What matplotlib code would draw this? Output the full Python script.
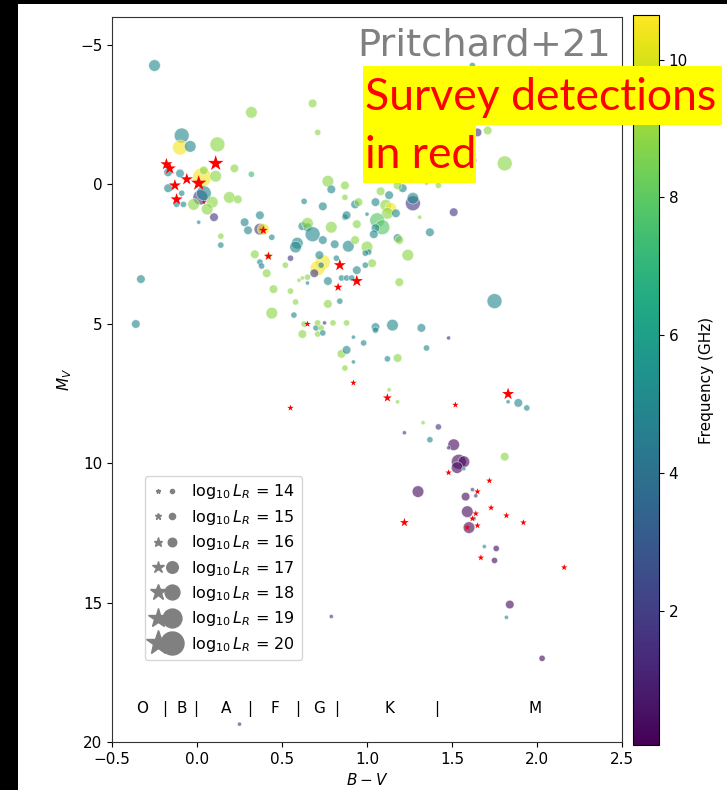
import numpy as np
import matplotlib.pyplot as plt
from matplotlib.lines import Line2D
from matplotlib.legend_handler import HandlerTuple
from matplotlib.patches import Rectangle
from matplotlib.colors import Normalize
from matplotlib.cm import ScalarMappable

# stars from Pritchard+21: colour index, absolute magnitude, frequency (GHz), log10 L_R
bv = [-0.25, 0.32, 0.68, 0.71, -0.09, -0.10, -0.04, 0.12, -0.17, -0.10,
      0.03, 0.04, 0.11, 0.02, 0.04, -0.17, -0.09, -0.12, -0.08, -0.02,
      0.09, 0.06, 0.19, 0.24, 0.22, 0.10, 0.01, 0.14, 0.14, 0.28,
      0.30, 0.32, 0.37, 0.37, 0.39, 0.44, -0.33, -0.36, 0.34, 0.37,
      0.38, 0.42, 0.55, 0.52, 0.41, 0.45, 0.55, 0.58, 0.44, 0.57,
      0.59, 0.58, 0.62, 0.65, 0.65, 0.68, 0.74, 0.79, 0.81, 0.89,
      0.93, 0.87, 1.00, 1.01, 0.94, 1.03, 0.99, 0.74, 0.71, 0.72,
      0.73, 0.69, 0.65, 0.62, 0.60, 0.65, 0.77, 0.82, 0.85, 0.88,
      0.91, 0.84, 0.77, 0.63, 0.70, 0.71, 0.75, 0.73, 0.71, 0.74,
      0.62, 0.80, 0.88, 0.92, 0.98, 1.05, 1.05, 1.15, 1.32, 1.48,
      1.35, 0.85, 0.88, 0.92, 1.12, 1.18, 0.87, 1.13, 1.18, 1.19,
      1.24, 1.75, 1.83, 1.89, 1.94, 1.33, 1.42, 1.22, 1.37, 1.51,
      1.48, 1.54, 1.57, 1.53, 1.57, 1.81, 1.30, 1.62, 1.64, 1.58,
      1.59, 1.63, 1.60, 1.69, 1.76, 1.75, 1.84, 1.82, 2.03, 0.79,
      0.25, 1.62, 1.65, 1.71, 1.62, 1.81, 1.51, 1.31, 1.37, 1.27,
      1.27, 1.21, 1.18, 1.42, 1.35, 1.13, 1.08, 1.11, 1.14, 1.12,
      1.17, 1.06, 1.09, 1.05, 1.04, 1.18, 1.19, 0.77, 0.79, 0.87,
      0.87, 0.63, 0.74, 0.93, 0.95, 1.05, 1.00, 0.88, 0.94, 0.99]
mv = [-4.26, -2.58, -2.90, -1.86, -1.75, -1.32, -1.36, -1.43, -0.43, -0.39,
      -0.25, -0.50, -0.29, 0.47, 0.32, 0.14, 0.32, 0.72, 0.72, 0.72,
      0.64, 0.89, 0.47, 0.54, -0.57, 1.18, 1.36, 1.86, 2.18, 1.36,
      1.65, -0.36, 1.11, 1.61, 1.61, 1.90, 3.40, 5.01, 2.51, 2.79,
      2.93, 2.58, 2.65, 2.90, 3.19, 3.76, 3.83, 4.22, 4.62, 4.69,
      2.11, 2.25, 1.50, 1.54, 1.40, 1.79, 2.00, 1.54, 2.15, 2.22,
      2.00, 1.18, 2.25, 2.43, 3.08, 2.83, 2.90, 2.79, 3.01, 2.54,
      2.90, 3.19, 3.33, 3.36, 3.44, 3.54, 3.47, 2.65, 3.36, 3.36,
      3.36, 4.19, 4.29, 5.01, 5.15, 4.97, 4.97, 5.15, 5.37, 5.33,
      5.37, 4.97, 4.97, 5.48, 5.69, 5.12, 5.23, 5.05, 5.15, 5.51,
      5.87, 6.08, 5.94, 6.37, 6.26, 6.23, 6.59, 7.37, 7.80, 3.51,
      2.54, 4.19, 7.80, 7.84, 8.02, 8.55, 8.70, 8.91, 9.16, 9.34,
      9.45, 9.95, 9.95, 10.16, 10.20, 9.77, 11.02, 10.95, 11.17, 11.20,
      11.74, 11.99, 12.31, 12.99, 13.06, 13.49, 15.07, 15.53, 17.00, 15.50,
      19.36, -4.26, -1.86, -1.93, -0.86, -0.75, 1.00, 1.18, 1.72, 0.68,
      0.50, 0.14, 0.04, 0.04, -0.04, 0.39, 0.25, 0.75, 0.86, 1.04,
      1.04, 1.29, 1.54, 1.57, 1.79, 1.93, 2.00, -0.11, 0.18, 0.04,
      0.47, 0.61, 0.79, 0.72, 0.64, 0.64, 1.07, 1.11, 1.43, 2.47]
freq = [5.0, 8.8, 8.8, 8.8, 5.0, 10.5, 5.0, 8.8, 5.0, 5.0,
        10.5, 8.8, 8.8, 1.8, 5.0, 5.0, 5.0, 5.0, 5.0, 8.8,
        8.8, 8.8, 8.8, 8.8, 8.8, 1.8, 5.0, 8.8, 5.0, 5.0,
        5.0, 7.3, 5.0, 1.8, 10.5, 5.0, 5.0, 5.0, 8.8, 5.0,
        5.0, 8.8, 1.8, 8.8, 8.8, 8.8, 8.8, 8.8, 8.8, 5.0,
        5.0, 5.0, 5.0, 5.0, 8.8, 5.0, 5.0, 8.8, 5.0, 5.0,
        8.8, 5.0, 8.8, 5.0, 5.0, 8.8, 5.0, 10.5, 10.5, 5.0,
        5.0, 1.8, 8.8, 8.8, 8.8, 5.0, 5.0, 5.0, 5.0, 5.0,
        5.0, 5.0, 8.8, 8.8, 5.0, 8.8, 1.8, 8.8, 8.8, 5.0,
        8.8, 8.8, 8.8, 5.0, 5.0, 5.0, 5.0, 5.0, 5.0, 1.8,
        5.0, 8.8, 5.0, 5.0, 5.0, 8.8, 8.8, 8.8, 8.8, 8.8,
        8.8, 5.0, 5.0, 5.0, 5.0, 8.8, 1.8, 1.8, 5.0, 0.3,
        1.8, 0.3, 0.3, 0.3, 5.0, 8.8, 0.3, 1.8, 1.8, 0.3,
        0.3, 5.0, 0.3, 5.0, 0.3, 0.3, 0.3, 5.0, 0.3, 1.8,
        1.8, 5.0, 1.8, 8.8, 1.8, 8.8, 1.8, 8.8, 5.0, 1.8,
        5.0, 5.0, 8.8, 8.8, 8.8, 5.0, 8.8, 8.8, 10.5, 8.8,
        5.0, 7.8, 7.8, 5.0, 5.0, 5.0, 8.8, 8.8, 5.0, 8.8,
        8.8, 5.0, 5.0, 5.0, 8.8, 5.0, 5.0, 5.0, 8.8, 5.0]
logl = [17, 17, 16, 15, 18, 18, 17, 18, 16, 16,
        19, 16, 17, 18, 18, 16, 15, 15, 15, 17,
        17, 17, 17, 16, 16, 16, 14, 15, 15, 16,
        16, 15, 16, 17, 17, 15, 16, 16, 16, 15,
        15, 15, 15, 15, 16, 16, 15, 15, 17, 15,
        17, 17, 16, 16, 17, 18, 16, 17, 16, 17,
        16, 15, 17, 15, 16, 16, 15, 18, 18, 16,
        15, 16, 15, 14, 14, 14, 16, 15, 15, 15,
        15, 15, 16, 15, 15, 15, 14, 15, 15, 15,
        16, 15, 15, 14, 15, 16, 15, 17, 16, 14,
        15, 16, 16, 14, 15, 16, 15, 14, 14, 16,
        17, 18, 14, 16, 15, 14, 15, 14, 15, 17,
        14, 18, 17, 17, 14, 16, 17, 14, 14, 16,
        17, 14, 17, 14, 15, 15, 16, 14, 15, 14,
        14, 15, 16, 16, 16, 18, 16, 14, 16, 18,
        17, 16, 16, 15, 14, 16, 16, 17, 17, 17,
        16, 18, 18, 16, 16, 16, 16, 17, 16, 16,
        15, 15, 16, 16, 16, 16, 14, 16, 16, 15]

# survey detections (red stars)
star_bv = [-0.18, -0.16, 0.11, -0.06, 0.01, -0.13, -0.12, 0.04, 0.39, 0.42,
           0.84, 0.94, 0.83, 0.65, 0.92, 0.55, 1.12, 1.52, 1.83, 1.48,
           1.72, 1.65, 1.73, 1.82, 1.92, 1.22, 1.64, 1.62, 1.65, 1.59,
           1.67, 2.16]
star_mv = [-0.72, -0.57, -0.75, -0.18, -0.04, 0.04, 0.54, 0.64, 1.65, 2.58,
           2.90, 3.47, 3.69, 5.01, 7.12, 8.02, 7.66, 7.91, 7.52, 10.34,
           10.63, 11.02, 11.60, 11.88, 12.13, 12.13, 11.81, 11.99, 12.24, 12.31,
           13.39, 13.74]
star_logl = [17, 17, 18, 17, 18, 17, 17, 14, 16, 16,
             17, 17, 16, 15, 15, 15, 16, 15, 17, 15,
             15, 15, 15, 15, 15, 16, 15, 15, 15, 15,
             15, 15]

legend_levels = [14, 15, 16, 17, 18, 19, 20]
spec_labels = ['O', '|', 'B', '|', 'A', '|', 'F', '|', 'G', '|', 'K', '|', 'M']
spec_x = [-0.32, -0.19, -0.09, -0.01, 0.17, 0.31, 0.46, 0.59, 0.72, 0.82, 1.13, 1.41, 1.99]

# marker area for each log10 L_R level
area = {14: 9, 15: 20, 16: 38, 17: 70, 18: 115, 19: 185, 20: 275}
star_scale = 1.2

fig = plt.figure(figsize=(7.27, 7.90), dpi=100)
fig.patch.set_facecolor('black')
fig.add_artist(Rectangle((18 / 727, 0), 1, 1 - 4 / 790, transform=fig.transFigure,
                         facecolor='white', edgecolor='none', zorder=-10))

ax = fig.add_axes([112 / 727, 48 / 790, 510 / 727, 725 / 790])
cax = fig.add_axes([633 / 727, 45 / 790, 26 / 727, 730 / 790])

norm = Normalize(vmin=0.05, vmax=10.65)
sizes = [area[l] for l in logl]
ax.scatter(bv, mv, c=freq, s=sizes, cmap='viridis', norm=norm, alpha=0.62,
           edgecolors='white', linewidths=0.5, zorder=2)
ax.scatter(star_bv, star_mv, s=[area[l] * star_scale for l in star_logl],
           marker='*', color='red', linewidths=0, zorder=3)

for lab, x in zip(spec_labels, spec_x):
    ax.text(x, 18.8, lab, ha='center', va='center', fontsize=11)

ax.set_xlim(-0.5, 2.5)
ax.set_ylim(20, -6)
ax.set_yticks([-5, 0, 5, 10, 15, 20])
ax.set_xticks([-0.5, 0.0, 0.5, 1.0, 1.5, 2.0, 2.5])
ax.tick_params(labelsize=11)
ax.set_xlabel('$B-V$', fontsize=11)
ax.set_ylabel('$M_V$', fontsize=11)
for sp in ax.spines.values():
    sp.set_color('#333333')

# legend: star + circle for each luminosity
handles = []
labels = []
for l in legend_levels:
    h_star = Line2D([], [], marker='*', linestyle='none', color='gray',
                    markersize=np.sqrt(area[l] * star_scale))
    h_circ = Line2D([], [], marker='o', linestyle='none', color='gray',
                    markersize=np.sqrt(area[l]))
    handles.append((h_star, h_circ))
    labels.append(r'$\log_{10}L_R$ = %d' % l)
ax.legend(handles, labels, handler_map={tuple: HandlerTuple(ndivide=None, pad=0.0)},
          loc='lower left', bbox_to_anchor=(0.065, 0.113), borderaxespad=0,
          fontsize=11.5, labelspacing=0.4, handlelength=1.7, handletextpad=0.8)

cb = fig.colorbar(ScalarMappable(norm=norm, cmap='viridis'), cax=cax)
cb.set_ticks([2, 4, 6, 8, 10])
cb.ax.tick_params(labelsize=11)
cb.set_label('Frequency (GHz)', fontsize=11, labelpad=8)

fig.text(611 / 727, 1 - 55 / 790, 'Pritchard+21', ha='right', va='baseline',
         fontsize=27.6, color='gray')

# overlay note
fig.add_artist(Rectangle((363 / 727, 1 - 125 / 790), 359 / 727, 59 / 790,
                         transform=fig.transFigure, facecolor='yellow', edgecolor='none', zorder=5))
fig.add_artist(Rectangle((363 / 727, 1 - 183 / 790), 113 / 727, 59 / 790,
                         transform=fig.transFigure, facecolor='yellow', edgecolor='none', zorder=5))
fig.text(365 / 727, 1 - 110 / 790, 'Survey detections', color='red', fontsize=32,
         family='Lato', va='baseline', zorder=6)
fig.text(365 / 727, 1 - 168 / 790, 'in red', color='red', fontsize=32,
         family='Lato', va='baseline', zorder=6)

fig.savefig('out.png', dpi=100, facecolor=fig.get_facecolor())
